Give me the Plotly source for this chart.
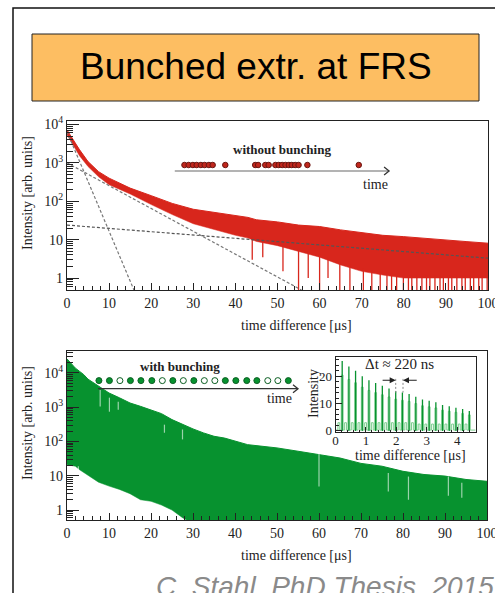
import numpy as np
import plotly.graph_objects as go

W, H = 495, 593
SERIF = "Liberation Serif, Times New Roman, serif"
SANS = "Liberation Sans, Arial, sans-serif"
RED = "#d8261c"
GREEN = "#07922f"
LIGHT_GREEN = "#7dcf8f"

# ---------------- data: upper panel (without bunching) ----------------
red_x = [0, 1, 2, 3, 5, 7.5, 10, 15, 20, 25, 30, 35, 40, 43, 45, 50, 55, 60, 65, 70, 75, 80, 85, 90, 95, 100]
red_upper = [7200, 4800, 3200, 2180, 1080, 590, 400, 220, 140, 88, 62, 52, 44, 38, 33, 29, 24, 22, 18, 15, 13, 12, 11, 9.8, 8.9, 8.1]
red_lower = [5400, 3550, 2250, 1520, 800, 435, 270, 155, 82, 45, 26, 18, 13, 11, 9, 7, 5, 3.5, 2.2, 1.5, 1.2, 1.0, 1.0, 1.0, 1.0, 1.0]
red_drop_x = [44, 46.5, 51.3, 55, 57.3, 60, 62, 64.8, 67.2, 70.4, 72.4, 74.4, 76, 77.1, 78.3, 79.9, 81.1,
              81.9, 83.1, 84.3, 85.4, 86.2, 87.4, 88.6, 89.4, 90.6, 91.4, 92.6, 93.8, 94.6, 95.8, 96.6,
              97.8, 98.6, 99.8]
red_drop_to = [3, 3.5, 1.5, 0.4, 1, 0.4, 1, 0.4, 0.4, 0.4, 0.4, 0.4, 0.4, 0.4, 0.4, 0.4, 0.4,
               0.4, 0.4, 0.4, 0.4, 0.4, 0.4, 0.4, 0.4, 0.4, 0.4, 0.4, 0.4, 0.4, 0.4, 0.4,
               0.4, 0.4, 0.4]
fit_short_x, fit_short_y = [0, 15.9], [6500, 0.49]
fit_medium_x, fit_medium_y = [0, 55.7], [1000, 0.49]
fit_long_x, fit_long_y = [0, 100], [24, 3.3]
unbunched_arrivals = [27.9, 28.9, 29.9, 30.8, 31.8, 32.7, 33.7, 34.6, 37.6, 44.7, 45.4, 47.1, 47.9,
                      49.5, 50.3, 51.1, 51.9, 52.7, 53.4, 54.2, 55.0, 57.1, 69.3]

# ---------------- data: lower panel (with bunching) ----------------
green_x = [0, 1, 2, 3, 4, 5, 7.5, 10, 12.5, 15, 17.5, 20, 22.5, 25, 27.5, 30, 32.5, 35, 37.5, 40, 43,
           45, 50, 55, 60, 65, 70, 75, 80, 85, 90, 95, 100]
green_upper = [25700, 18700, 13800, 11100, 8900, 6600, 4070, 2600, 1880, 1330, 1060, 810, 650, 435, 310,
               233, 178, 142, 126, 102, 81, 76, 65, 52, 41, 33, 23, 19, 13.5, 10.9, 9.8, 7.8, 6.9]
green_lower = [21, 20, 19, 15, 12.5, 10.5, 6.5, 5, 4, 3, 2, 1.8, 1.4, 1.0, 0.6, 0.4, 0.4, 0.4, 0.4, 0.4, 0.4,
               0.4, 0.4, 0.4, 0.4, 0.4, 0.4, 0.4, 0.4, 0.4, 0.4, 0.4, 0.4]
green_gap_x = [2.7, 7.9, 10.1, 12.2, 23.2, 27.5, 60, 76.5, 81.3, 90.8, 94]
green_gap_top = [19, 3160, 1900, 1450, 310, 224, 58, 12, 9.5, 9.5, 6.3]
green_gap_bottom = [3, 1050, 740, 850, 180, 115, 4.9, 3.5, 2, 2.6, 2.3]
bunched_arrivals = [7.6, 10.1, 12.6, 15.1, 17.6, 20.2, 22.7, 25.2, 27.7, 30.2, 32.7, 35.2, 37.7, 40.2,
                    42.8, 45.2, 47.8, 50.2, 52.7]
bunched_filled = [1, 1, 0, 1, 1, 1, 0, 1, 0, 1, 0, 0, 1, 1, 1, 1, 0, 0, 1]

# ---------------- data: inset ----------------
inset_peak_t = [0.22, 0.44, 0.66, 0.88, 1.10, 1.32, 1.54, 1.76, 1.98, 2.20, 2.42, 2.64, 2.86, 3.08,
                3.30, 3.52, 3.74, 3.96, 4.18, 4.40]
inset_peak_h = [25.5, 23.5, 22, 20, 18.5, 17.5, 16.5, 15.5, 14.5, 14, 13.5, 12.5, 11.5, 11, 10.5,
                9.5, 9, 8.5, 8, 7.3]
inset_valley_h = [3, 3, 3, 3, 3, 3, 3, 3, 3, 3, 3, 3, 2.5, 2.5, 2.5, 2.5, 2.5, 2.5, 2.5, 2.5]

# ticks
log_tickvals = [1, 10, 100, 1000, 10000]
log_ticktext = ["1", "10", "10<sup>2</sup>", "10<sup>3</sup>", "10<sup>4</sup>"]
log_minor = [m * 10 ** d for d in range(-1, 5) for m in range(2, 10)]


def pxx(x):
    return x / W


def pyy(y):
    return 1 - y / H


fig = go.Figure()

# ---- upper panel traces ----
fig.add_trace(go.Scatter(x=red_x, y=red_lower, mode="lines", line=dict(width=0.5, color=RED),
                         xaxis="x", yaxis="y", hoverinfo="skip"))
fig.add_trace(go.Scatter(x=red_x, y=red_upper, mode="lines", fill="tonexty", fillcolor=RED,
                         line=dict(width=1, color=RED), xaxis="x", yaxis="y", hoverinfo="skip"))
start = np.exp(np.interp(red_drop_x, red_x, np.log(red_lower)))
dx, dy = [], []
for x0, s, e in zip(red_drop_x, start, red_drop_to):
    dx += [x0, x0, None]
    dy += [s * 1.2, e, None]
fig.add_trace(go.Scatter(x=dx, y=dy, mode="lines", line=dict(width=1.3, color=RED),
                         xaxis="x", yaxis="y", hoverinfo="skip"))
for fx, fy, col in [(fit_short_x, fit_short_y, "#777777"), (fit_medium_x, fit_medium_y, "#777777"),
                    (fit_long_x, fit_long_y, "#555555")]:
    fig.add_trace(go.Scatter(x=fx, y=fy, mode="lines", line=dict(width=1.2, color=col, dash="3px,2px"),
                             xaxis="x", yaxis="y", hoverinfo="skip"))
fig.add_trace(go.Scatter(x=unbunched_arrivals, y=[880] * len(unbunched_arrivals), mode="markers",
                         marker=dict(size=5.5, color="#c0261c", line=dict(width=1, color="#6a1510")),
                         xaxis="x", yaxis="y", hoverinfo="skip", cliponaxis=False))

# ---- lower panel traces ----
fig.add_trace(go.Scatter(x=green_x, y=green_lower, mode="lines", line=dict(width=0.5, color=GREEN),
                         xaxis="x2", yaxis="y2", hoverinfo="skip"))
fig.add_trace(go.Scatter(x=green_x, y=green_upper, mode="lines", fill="tonexty", fillcolor=GREEN,
                         line=dict(width=1, color=GREEN), xaxis="x2", yaxis="y2", hoverinfo="skip"))
gx, gy = [], []
for x0, t, b in zip(green_gap_x, green_gap_top, green_gap_bottom):
    gx += [x0, x0, None]
    gy += [t, b, None]
fig.add_trace(go.Scatter(x=gx, y=gy, mode="lines", line=dict(width=1.2, color="rgba(255,255,255,0.6)"),
                         xaxis="x2", yaxis="y2", hoverinfo="skip"))
fig.add_trace(go.Scatter(x=bunched_arrivals, y=[5970] * len(bunched_arrivals), mode="markers",
                         marker=dict(size=6, color=[GREEN if f else "white" for f in bunched_filled],
                                     line=dict(width=1, color="#0b5e22")),
                         xaxis="x2", yaxis="y2", hoverinfo="skip"))

# ---- inset traces ----
lx, ly = [0], [0.3]
for t, h, v in zip(inset_peak_t, inset_peak_h, inset_valley_h):
    lx += [t - 0.14, t - 0.14, t - 0.08, t - 0.08, t - 0.03, t - 0.03, t + 0.03, t + 0.03]
    ly += [0.3, v, v, 0.3, 0.3, h * 0.8, h * 0.8, 0.3]
lx += [4.6]
ly += [0.3]
fig.add_trace(go.Scatter(x=lx, y=ly, mode="lines", line=dict(width=1, color=LIGHT_GREEN, shape="linear"),
                         xaxis="x3", yaxis="y3", hoverinfo="skip"))
kx, ky = [], []
for t, h in zip(inset_peak_t, inset_peak_h):
    kx += [t, t, None]
    ky += [0, h, None]
fig.add_trace(go.Scatter(x=kx, y=ky, mode="lines", line=dict(width=1.3, color=GREEN),
                         xaxis="x3", yaxis="y3", hoverinfo="skip"))
fig.add_trace(go.Scatter(x=[1.98, 1.98, None, 2.22, 2.22], y=[19, 14, None, 19, 14], mode="lines",
                         line=dict(width=1, color="#888888", dash="2px,2px"),
                         xaxis="x3", yaxis="y3", hoverinfo="skip"))

# ---------------- axes ----------------
common_x = dict(range=[0, 100], showline=True, mirror=True, linecolor="#222", linewidth=1.3,
                ticks="inside", ticklen=7, tickwidth=1, tickcolor="#222", dtick=10, tick0=0,
                minor=dict(ticks="inside", ticklen=3.5, dtick=2, tick0=0, tickcolor="#222"),
                ticklabeloverflow="allow", automargin=False,
                tickfont=dict(family=SERIF, size=14, color="#222"), showgrid=False, zeroline=False)
common_y = dict(type="log", showline=True, mirror=True, linecolor="#222", linewidth=1.3,
                ticks="inside", ticklen=12, tickwidth=1.2, tickcolor="#222",
                tickvals=log_tickvals, ticktext=log_ticktext, automargin=False,
                minor=dict(ticks="inside", ticklen=6, tickvals=log_minor, tickcolor="#222"),
                tickfont=dict(family=SERIF, size=14, color="#222"), showgrid=False, zeroline=False)

fig.update_layout(
    width=W, height=H, margin=dict(l=0, r=0, t=0, b=0, autoexpand=False),
    paper_bgcolor="white", plot_bgcolor="white", showlegend=False,
    xaxis=dict(common_x, domain=[pxx(67), pxx(488)], anchor="y"),
    yaxis=dict(common_y, domain=[pyy(290), pyy(121)], range=[-0.31, 4.09], anchor="x"),
    xaxis2=dict(common_x, domain=[pxx(67), pxx(487)], anchor="y2"),
    yaxis2=dict(common_y, domain=[pyy(520), pyy(351)], range=[-0.29, 4.64], anchor="x2"),
    xaxis3=dict(range=[0, 4.62], domain=[pxx(335.5), pxx(476)], anchor="y3", showline=True, mirror=True,
                linecolor="#222", linewidth=1, ticks="inside", ticklen=5, tickcolor="#222", dtick=1,
                minor=dict(ticks="inside", ticklen=2.5, dtick=0.2, tickcolor="#222"), automargin=False,
                ticklabelstandoff=-4,
                tickfont=dict(family=SERIF, size=13, color="#222"), showgrid=False, zeroline=False),
    yaxis3=dict(range=[-0.4, 27], domain=[pyy(432), pyy(357)], anchor="x3", showline=True, mirror=True,
                linecolor="#222", linewidth=1, ticks="inside", ticklen=6, tickcolor="#222", dtick=10,
                minor=dict(ticks="inside", ticklen=3, dtick=2, tickcolor="#222"), automargin=False,
                tickfont=dict(family=SERIF, size=13, color="#222"), showgrid=False, zeroline=False),
)

ann = []
shapes = []


def note(**kw):
    kw.setdefault("showarrow", False)
    kw.setdefault("xanchor", "center")
    kw.setdefault("yanchor", "middle")
    ann.append(kw)


# slide frame and title box
shapes.append(dict(type="rect", xref="paper", yref="paper", x0=pxx(13), x1=1.05, y0=-0.05, y1=pyy(8),
                   line=dict(color="#111", width=1.5), fillcolor="rgba(0,0,0,0)"))
shapes.append(dict(type="rect", xref="paper", yref="paper", x0=pxx(32), x1=pxx(479), y0=pyy(101), y1=pyy(34),
                   line=dict(color="#222", width=1), fillcolor="#fdbe62"))
note(text="Bunched extr. at FRS", xref="paper", yref="paper", x=pxx(255.5), y=pyy(66),
     font=dict(family=SANS, size=37, color="black"))
note(text="<i>C. Stahl, PhD Thesis, 2015</i>", xref="paper", yref="paper", x=pxx(154), y=pyy(586),
     font=dict(family=SANS, size=28, color="#8a8a8a"), xanchor="left")

# axis titles
for yc in (193, 423):
    note(text="Intensity [arb. units]", xref="paper", yref="paper", x=pxx(27), y=pyy(yc),
         textangle=-90, font=dict(family=SERIF, size=14, color="#222"))
for yc in (325, 555):
    note(text="time difference [μs]", xref="paper", yref="paper", x=pxx(296), y=pyy(yc),
         font=dict(family=SERIF, size=14, color="#222"))
note(text="Intensity", xref="paper", yref="paper", x=pxx(313), y=pyy(394), textangle=-90,
     font=dict(family=SERIF, size=14, color="#222"))
note(text="time difference [μs]", xref="paper", yref="paper", x=pxx(410), y=pyy(456),
     font=dict(family=SERIF, size=14, color="#222"))

# schematic labels
note(text="<b>without bunching</b>", xref="x", yref="y domain", x=51.1, y=0.834,
     font=dict(family=SERIF, size=13, color="#222"))
note(text="time", xref="x", yref="y domain", x=73.2, y=0.627,
     font=dict(family=SERIF, size=14, color="#222"))
note(text="<b>with bunching</b>", xref="x2", yref="y2 domain", x=26.9, y=0.911,
     font=dict(family=SERIF, size=13, color="#222"))
note(text="time", xref="x2", yref="y2 domain", x=50.7, y=0.716,
     font=dict(family=SERIF, size=14, color="#222"))
note(text="Δt ≈ 220 ns", xref="x3", yref="y3", x=2.12, y=24.3,
     font=dict(family=SERIF, size=15, color="#222"))
ann.append(dict(text="", xref="x3", yref="y3", x=1.98, y=18.5, ax=1.5, ay=18.5, axref="x3", ayref="y3",
                showarrow=True, arrowhead=2, arrowsize=1, arrowwidth=1.2, arrowcolor="#222"))
ann.append(dict(text="", xref="x3", yref="y3", x=2.22, y=18.5, ax=2.72, ay=18.5, axref="x3", ayref="y3",
                showarrow=True, arrowhead=2, arrowsize=1, arrowwidth=1.2, arrowcolor="#222"))

# time arrows
shapes.append(dict(type="line", xref="x", yref="y domain", x0=25.6, x1=76.5, y0=0.704, y1=0.704,
                   line=dict(color="#9a9a9a", width=1.5)))
shapes.append(dict(type="path", xref="x", yref="y domain", xsizemode="pixel", ysizemode="pixel",
                   xanchor=76.5, yanchor=0.704, path="M -5,-4 L 0,0 L -5,4",
                   line=dict(color="#333", width=1.3)))
shapes.append(dict(type="line", xref="x2", yref="y2 domain", x0=7.4, x1=55, y0=0.777, y1=0.777,
                   line=dict(color="#333", width=1.3)))
shapes.append(dict(type="path", xref="x2", yref="y2 domain", xsizemode="pixel", ysizemode="pixel",
                   xanchor=55, yanchor=0.777, path="M -5,-4 L 0,0 L -5,4",
                   line=dict(color="#333", width=1.3)))

fig.update_layout(annotations=ann, shapes=shapes)
fig.write_html("out.html", config={"displayModeBar": False},
               post_script="document.body.style.margin='0';")
